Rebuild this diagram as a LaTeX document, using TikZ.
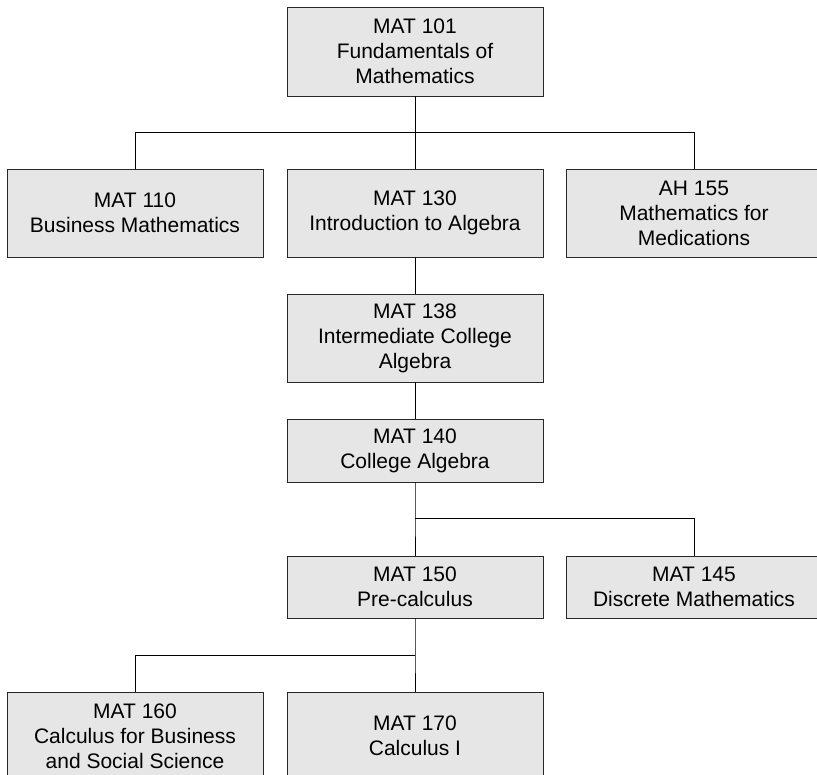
\documentclass[tikz,border=0pt]{standalone}
\usepackage{fontspec}
\setmainfont{Liberation Sans}
\usepackage{tikz}
\definecolor{Bcolor}{RGB}{230, 230, 230}
\definecolor{Lcolor}{RGB}{40, 40, 40}
\def\boxwidth{256pt}
\def\tallheight{88pt}
\def\lowheight{63pt}
\def\colA{135}
\def\colB{415}
\def\colC{694}

\begin{document}
\begin{tikzpicture}[x=1pt, y=1pt,
    course/.style={draw=Lcolor, line width=0.9pt, fill=Bcolor, shape=rectangle,
        minimum width=\boxwidth, align=center, inner sep=0pt,
        font=\fontsize{21}{25}\selectfont},
    link/.style={draw=black, line width=1pt}]
    \clip (0, 0) rectangle (817, -775);
    % top
    \node[course, minimum height=89pt] (M101) at (\colB, -51.5) {MAT 101\\Fundamentals of\\Mathematics};
    % first row
    \node[course, minimum height=\tallheight] (M110) at (\colA, -213) {MAT 110\\Business Mathematics};
    \node[course, minimum height=\tallheight] (M130) at (\colB, -213) {MAT 130\\Introduction to Algebra};
    \node[course, minimum height=\tallheight] (A155) at (\colC, -213) {AH 155\\Mathematics for\\Medications};
    \coordinate (split1) at (\colB, -133);
    \draw[link] (M101) -- (split1);
    \draw[link] (split1) -| (M110);
    \draw[link] (split1) -| (A155);
    \draw[link] (split1) -- (M130);
    % algebra chain
    \node[course, minimum height=\tallheight] (M138) at (\colB, -338) {MAT 138\\Intermediate College\\Algebra};
    \node[course, minimum height=\lowheight] (M140) at (\colB, -450.5) {MAT 140\\College Algebra};
    \draw[link] (M130) -- (M138);
    \draw[link] (M138) -- (M140);
    % second split
    \node[course, minimum height=62pt] (M150) at (\colB, -587) {MAT 150\\Pre-calculus};
    \node[course, minimum height=62pt] (M145) at (\colC, -587) {MAT 145\\Discrete Mathematics};
    \coordinate (split2) at (\colB, -518);
    \draw[link] (M140) -- (split2) -- (M150);
    \draw[link] (split2) -| (M145);
    % calculus
    \node[course, minimum height=\tallheight] (M160) at (\colA, -736) {MAT 160\\Calculus for Business\\and Social Science};
    \node[course, minimum height=\tallheight] (M170) at (\colB, -736) {MAT 170\\Calculus I};
    \coordinate (split3) at (\colB, -655);
    \draw[link] (M150) -- (split3) -- (M170);
    \draw[link] (split3) -| (M160);
\end{tikzpicture}
\end{document}
